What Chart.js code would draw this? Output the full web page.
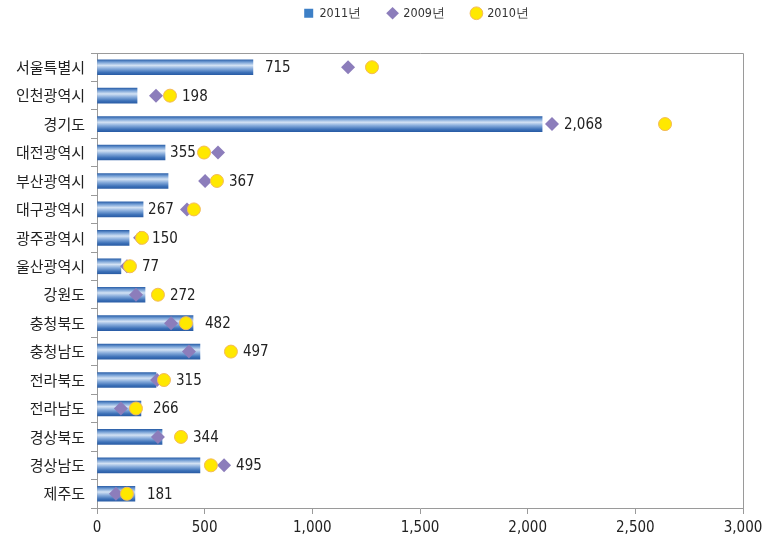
<!DOCTYPE html>
<html>
<head>
<meta charset="utf-8">
<script src="https://cdn.jsdelivr.net/npm/chart.js@4/dist/chart.umd.min.js"></script>
<style>
  html, body { margin: 0; padding: 0; background: #fff; }
  #wrap { width: 770px; height: 546px; }
</style>
</head>
<body>
<div id="wrap"><canvas id="chart"></canvas></div>
<script>
const regioes = ['서울특별시','인천광역시','경기도','대전광역시','부산광역시','대구광역시','광주광역시','울산광역시',
  '강원도','충청북도','충청남도','전라북도','전라남도','경상북도','경상남도','제주도'];

// 2011년 막대 (그림에서 읽은 길이)
const valores2011 = [724, 186, 2067, 316, 330, 214, 149, 111, 223, 446, 478, 274, 204, 302, 478, 176];
// 막대 옆에 적힌 숫자
const rotulos2011 = ['715','198','2,068','355','367','267','150','77','272','482','497','315','266','344','495','181'];
const valores2009 = [1166, 274, 2113, 562, 502, 418, 200, 139, 181, 344, 427, 279, 111, 283, 590, 88];
const valores2010 = [1277, 339, 2638, 497, 557, 450, 209, 153, 283, 413, 622, 311, 181, 390, 529, 139];

const ticksX = [0, 500, 1000, 1500, 2000, 2500, 3000];

const fonteNum = "'Liberation Sans Narrow', 'DejaVu Sans Condensed', 'Roboto', sans-serif";
const fonteKr = "'Noto Sans CJK KR', 'Noto Sans', sans-serif";
const corTexto = '#222';
const corBorda = '#9a9a9a';

function gradienteBarra(ctx) {
  const chart = ctx.chart;
  const y = chart.scales && chart.scales.y;
  if (!chart.chartArea || !y || ctx.dataIndex === undefined) return '#3f72b8';
  const centro = y.getPixelForValue(ctx.dataIndex);
  const g = chart.ctx.createLinearGradient(0, centro - 7.5, 0, centro + 7.5);
  g.addColorStop(0, '#2f63ab');
  g.addColorStop(0.15, '#6f9bd3');
  g.addColorStop(0.38, '#d3e2f4');
  g.addColorStop(0.6, '#86abdb');
  g.addColorStop(0.85, '#3d71b8');
  g.addColorStop(1, '#2a5da6');
  return g;
}

// legenda: altura fixa e deslocada como no original
const legendaAjuste = {
  id: 'legendaAjuste',
  beforeInit(chart) {
    const fit = chart.legend.fit;
    chart.legend.fit = function () {
      fit.bind(chart.legend)();
      this.height = 53;
    };
  },
  afterLayout(chart) {
    const lg = chart.legend;
    lg.left += 45;
    lg.right += 45;
    lg.top -= 20;
    lg.bottom -= 20;
  }
};

// moldura superior e direita
const moldura = {
  id: 'moldura',
  beforeDatasetsDraw(chart) {
    const { ctx, chartArea: a } = chart;
    ctx.save();
    ctx.strokeStyle = corBorda;
    ctx.lineWidth = 1;
    ctx.beginPath();
    ctx.moveTo(a.left, a.top + 0.5);
    ctx.lineTo(a.right + 0.5, a.top + 0.5);
    ctx.lineTo(a.right + 0.5, a.bottom);
    ctx.stroke();
    ctx.restore();
  }
};

// rótulos do 2011, empurrados para depois dos marcadores quando se sobrepõem
const rotulos = {
  id: 'rotulos',
  afterDatasetsDraw(chart) {
    const { ctx } = chart;
    const x = chart.scales.x;
    const yS = chart.scales.y;
    ctx.save();
    ctx.font = '15px ' + fonteNum;
    ctx.fillStyle = corTexto;
    ctx.textBaseline = 'middle';
    rotulos2011.forEach((txt, i) => {
      const fim = x.getPixelForValue(valores2011[i]);
      const w = ctx.measureText(txt).width;
      const marcas = [x.getPixelForValue(valores2009[i]), x.getPixelForValue(valores2010[i])].sort((a, b) => a - b);
      const bate = s => marcas.find(m => m + 7 > s - 2 && m - 7 < s + w);
      let s = fim + 12;
      if (bate(s) !== undefined) s = fim + 5;
      let m, n = 0;
      while ((m = bate(s)) !== undefined && n < 5) { s = m + 12; n++; }
      ctx.fillText(txt, s, yS.getPixelForValue(i) + 1);
    });
    ctx.restore();
  }
};

new Chart(document.getElementById('chart'), {
  data: {
    labels: regioes,
    datasets: [
      {
        type: 'bar',
        label: '2011년',
        data: valores2011,
        backgroundColor: gradienteBarra,
        barThickness: 15,
        borderWidth: 0,
        order: 3
      },
      {
        type: 'line',
        label: '2009년',
        data: valores2009,
        indexAxis: 'y',
        showLine: false,
        pointStyle: 'rectRot',
        pointRadius: 7,
        pointHoverRadius: 7,
        pointBackgroundColor: '#8c7dbb',
        pointBorderColor: '#8c7dbb',
        backgroundColor: '#8c7dbb',
        borderColor: '#8c7dbb',
        pointBorderWidth: 0,
        order: 2
      },
      {
        type: 'line',
        label: '2010년',
        data: valores2010,
        indexAxis: 'y',
        showLine: false,
        pointStyle: 'circle',
        pointRadius: 6.5,
        pointHoverRadius: 6.5,
        pointBackgroundColor: '#ffe800',
        pointBorderColor: '#f3b95a',
        backgroundColor: '#ffe800',
        borderColor: '#f3b95a',
        pointBorderWidth: 1,
        order: 1
      }
    ]
  },
  options: {
    indexAxis: 'y',
    responsive: true,
    maintainAspectRatio: false,
    animation: false,
    layout: { padding: { top: 0, right: 27, bottom: 4, left: 0 } },
    plugins: {
      tooltip: { enabled: false },
      legend: {
        position: 'top',
        labels: {
          usePointStyle: true,
          boxWidth: 9,
          boxHeight: 9,
          padding: 27,
          color: '#333',
          font: { size: 12.5, family: fonteNum },
          generateLabels(chart) {
            const estilos = ['rect', 'rectRot', 'circle'];
            const cores = ['#3d7fc6', '#8c7dbb', '#ffe800'];
            const bordas = ['#3d7fc6', '#8c7dbb', '#f3b95a'];
            return chart.data.datasets.map((d, i) => ({
              text: d.label,
              pointStyle: estilos[i],
              fillStyle: cores[i],
              strokeStyle: bordas[i],
              lineWidth: i === 2 ? 1 : 0,
              fontColor: '#333',
              datasetIndex: i
            }));
          }
        }
      }
    },
    scales: {
      x: {
        min: 0,
        max: 3000,
        afterBuildTicks(scale) { scale.ticks = ticksX.map(v => ({ value: v })); },
        grid: { display: true, drawOnChartArea: false, drawTicks: true, tickLength: 6, color: corBorda },
        border: { color: corBorda },
        ticks: {
          color: corTexto,
          font: { size: 15, family: fonteNum },
          padding: 5,
          callback: v => v.toLocaleString('en-US')
        }
      },
      y: {
        afterFit(scale) { scale.width = 97; },
        grid: { display: true, drawOnChartArea: false, drawTicks: true, tickLength: 6, offset: true, color: corBorda },
        border: { color: corBorda },
        ticks: {
          color: corTexto,
          font: { size: 15, family: fonteKr },
          padding: 6
        }
      }
    }
  },
  plugins: [legendaAjuste, moldura, rotulos]
});
</script>
</body>
</html>
